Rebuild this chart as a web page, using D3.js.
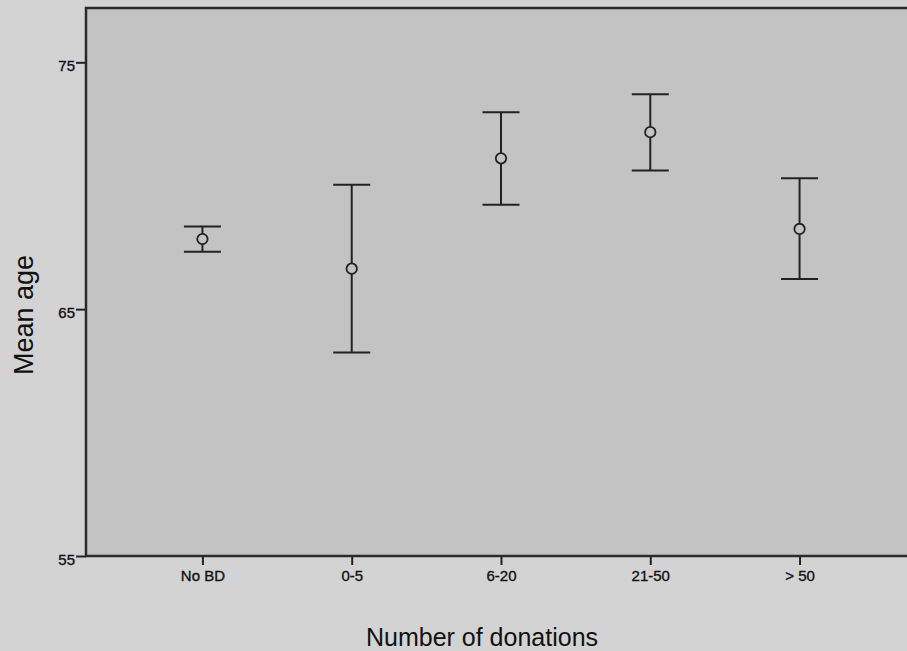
<!DOCTYPE html>
<html>
<head>
<meta charset="utf-8">
<script src="https://cdn.jsdelivr.net/npm/d3@7"></script>
<style>
  body { margin: 0; background: #d3d3d3; }
  svg { display: block; }
</style>
</head>
<body>
<svg id="chart"></svg>
<script>
// ====================================================================
// data
var groups = ["No BD", "0-5", "6-20", "21-50", "> 50"];
var mean_age = [67.84, 66.64, 71.11, 72.17, 68.25];
var ci_upper = [68.35, 70.04, 72.98, 73.71, 70.30];
var ci_lower = [67.33, 63.24, 69.23, 70.62, 66.22];
var y_ticks = [55, 65, 75];
// ====================================================================

var svg_width = 907, svg_height = 651;
var margin = {top: 8, left: 86, bottom: 95, right: -9};
var width = svg_width - margin.left - margin.right,
    height = svg_height - margin.top - margin.bottom;

var str_font = "Arial, 'Liberation Sans', sans-serif";
var str_ink = "#222";

var svg = d3.select("#chart")
  .attr("width", svg_width)
  .attr("height", svg_height);

var group_container = svg.append("g")
  .attr("transform", "translate(" + margin.left + "," + margin.top + ")");

var plot_data = groups.map(function(g, i) {
  return {group: g, mean: mean_age[i], hi: ci_upper[i], lo: ci_lower[i]};
});

// scales
var x = d3.scalePoint()
  .domain(groups)
  .range([0, width])
  .padding(0.78);

var y = d3.scaleLinear()
  .domain([55, 77.2])
  .range([height, 0]);

// plot background
group_container.append("rect")
  .attr("width", width)
  .attr("height", height)
  .style("fill", "#c3c3c3");

// x axis
var x_axis = group_container.append("g")
  .attr("transform", "translate(0," + height + ")")
  .call(d3.axisBottom(x).tickSize(9).tickPadding(5));

// y axis
var y_axis = group_container.append("g")
  .call(d3.axisLeft(y).tickValues(y_ticks).tickSize(10).tickPadding(1));
y_axis.selectAll("text")
  .attr("dy", "0.55em");

[x_axis, y_axis].forEach(function(a) {
  a.select(".domain").remove();
  a.selectAll(".tick line").style("stroke", str_ink).style("stroke-width", 2);
  a.selectAll("text")
    .style("font-family", str_font)
    .style("font-size", "15px")
    .style("fill", "#111")
    .style("stroke", "#111")
    .style("stroke-width", 0.35);
});

// frame
group_container.append("rect")
  .attr("width", width)
  .attr("height", height)
  .style("fill", "none")
  .style("stroke", "#2a2a2a")
  .style("stroke-width", 2.5);

// error bars
var cap_half = 18.5;
var bars = group_container.append("g").selectAll("g")
  .data(plot_data)
  .enter()
  .append("g");

bars.append("line")
  .attr("x1", function(d) { return x(d.group); })
  .attr("x2", function(d) { return x(d.group); })
  .attr("y1", function(d) { return y(d.hi); })
  .attr("y2", function(d) { return y(d.lo); });

bars.append("line")
  .attr("x1", function(d) { return x(d.group) - cap_half; })
  .attr("x2", function(d) { return x(d.group) + cap_half; })
  .attr("y1", function(d) { return y(d.hi); })
  .attr("y2", function(d) { return y(d.hi); });

bars.append("line")
  .attr("x1", function(d) { return x(d.group) - cap_half; })
  .attr("x2", function(d) { return x(d.group) + cap_half; })
  .attr("y1", function(d) { return y(d.lo); })
  .attr("y2", function(d) { return y(d.lo); });

bars.selectAll("line")
  .style("stroke", str_ink)
  .style("stroke-width", 2);

bars.append("circle")
  .attr("cx", function(d) { return x(d.group); })
  .attr("cy", function(d) { return y(d.mean); })
  .attr("r", 5.2)
  .style("fill", "#c3c3c3")
  .style("stroke", str_ink)
  .style("stroke-width", 1.8);

// axis titles
svg.append("text")
  .attr("x", 482)
  .attr("y", 646)
  .attr("text-anchor", "middle")
  .style("font-family", str_font)
  .style("font-size", "25px")
  .style("fill", "#111")
  .text("Number of donations");

svg.append("text")
  .attr("transform", "translate(33,315) rotate(-90)")
  .attr("text-anchor", "middle")
  .style("font-family", str_font)
  .style("font-size", "27px")
  .style("fill", "#111")
  .text("Mean age");
</script>
</body>
</html>
